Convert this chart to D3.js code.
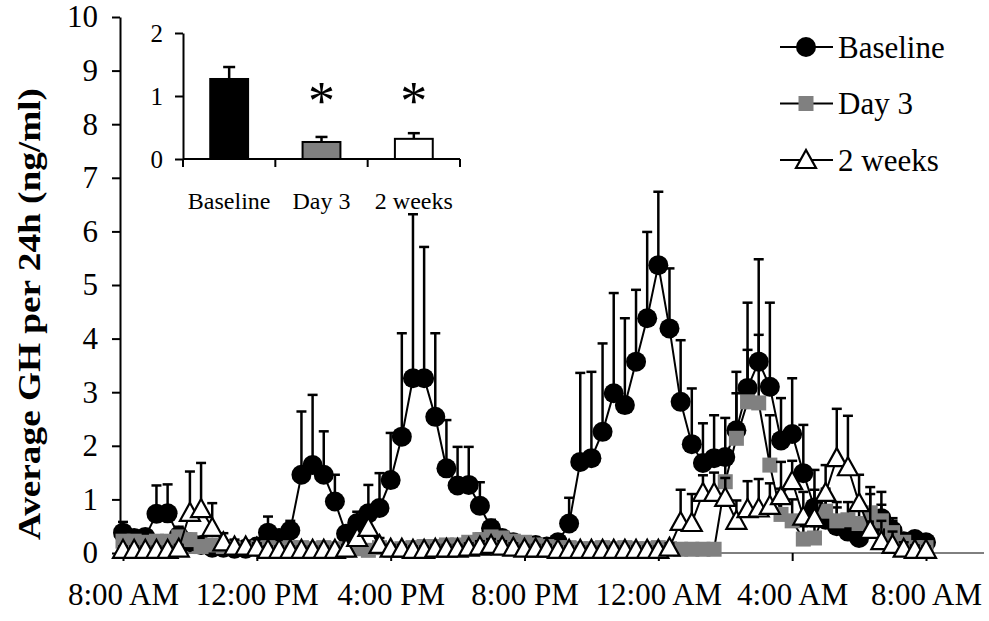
<!DOCTYPE html>
<html>
<head>
<meta charset="utf-8">
<script src="https://cdn.jsdelivr.net/npm/d3@7"></script>
<style>
  body { margin: 0; background: #fff; }
</style>
</head>
<body>
<svg width="989" height="621"></svg>
<script>

// tick labels for the time axis (one every 4 hours = every 12 samples)
var timeTicks = [0, 12, 24, 36, 48, 60, 72];
var timeLabels = ["8:00 AM", "12:00 PM", "4:00 PM", "8:00 PM", "12:00 AM", "4:00 AM", "8:00 AM"];

// 20 minute samples, 8:00 AM to 8:00 AM
var baseline = [0.38, 0.28, 0.30, 0.73, 0.74, 0.32, 0.20, 0.15, 0.10, 0.10, 0.08, 0.08, 0.12,
  0.38, 0.28, 0.42, 1.46, 1.64, 1.46, 0.96, 0.36, 0.56, 0.74, 0.84, 1.36,
  2.17, 3.26, 3.26, 2.54, 1.58, 1.26, 1.27, 0.88, 0.46, 0.28, 0.20, 0.15,
  0.15, 0.12, 0.20, 0.55, 1.70, 1.77, 2.26, 2.98, 2.76, 3.57, 4.38, 5.37,
  4.19, 2.82, 2.03, 1.68, 1.77, 1.79, 2.29, 3.08, 3.57, 3.10, 2.10, 2.22,
  1.49, 0.85, 0.62, 0.50, 0.40, 0.28, 0.45, 0.65, 0.42, 0.22, 0.26, 0.20];
var baselineErr = [0.58, 0.40, 0.42, 1.26, 1.28, 0.49, 0.32, 0.25, 0.18, 0.18, 0.15, 0.15, 0.20,
  0.68, 0.42, 0.60, 2.64, 2.95, 2.27, 1.46, 0.48, 0.77, 1.27, 1.49, 2.24,
  4.10, 6.32, 5.71, 4.10, 2.48, 1.98, 1.98, 1.32, 0.62, 0.40, 0.30, 0.24,
  0.22, 0.20, 0.32, 1.03, 3.36, 3.38, 3.91, 4.85, 4.38, 4.91, 5.99, 6.74,
  5.31, 3.97, 3.07, 2.42, 2.57, 2.52, 3.38, 4.67, 5.48, 4.67, 2.89, 3.26,
  2.39, 1.55, 1.05, 0.85, 0.70, 0.50, 0.70, 1.14, 0.65, 0.35, 0.35, 0.28];

var day3 = [0.22, 0.22, 0.20, 0.22, 0.22, 0.30, 0.25, 0.12, 0.15, 0.12, 0.10, 0.10, 0.08,
  0.10, 0.08, 0.10, 0.10, 0.08, 0.10, 0.08, 0.05, 0.08, 0.05, 0.10, 0.05,
  0.08, 0.10, 0.12, 0.12, 0.15, 0.15, 0.20, 0.25, 0.30, 0.28, 0.22, 0.20,
  0.15, 0.12, 0.10, 0.10, 0.08, 0.08, 0.10, 0.08, 0.10, 0.08, 0.08, 0.10,
  0.08, 0.07, 0.07, 0.07, 0.07, 1.33, 2.14, 2.82, 2.80, 1.64, 0.72, 0.60,
  0.26, 0.28, 0.78, 0.60, 0.62, 0.55, 0.75, 0.60, 0.38, 0.20, 0.10, 0.10];
var day3Err = [0.30, 0.30, 0.28, 0.30, 0.30, 0.40, 0.35, 0.20, 0.22, 0.20, 0.16, 0.16, 0.14,
  0.16, 0.14, 0.16, 0.16, 0.14, 0.16, 0.14, 0.10, 0.14, 0.10, 0.16, 0.10,
  0.14, 0.16, 0.20, 0.20, 0.24, 0.24, 0.30, 0.36, 0.42, 0.40, 0.32, 0.30,
  0.24, 0.20, 0.16, 0.16, 0.14, 0.14, 0.16, 0.14, 0.16, 0.14, 0.14, 0.16,
  0.14, 0.12, 0.12, 0.12, 0.12, 1.90, 2.98, 3.79, 4.07, 2.57, 1.20, 1.00,
  0.50, 0.50, 1.20, 0.95, 0.95, 0.85, 1.10, 0.90, 0.60, 0.35, 0.20, 0.18];

var weeks2 = [0.06, 0.06, 0.06, 0.06, 0.06, 0.08, 0.75, 0.82, 0.47, 0.20, 0.12, 0.12, 0.10,
  0.06, 0.06, 0.06, 0.06, 0.06, 0.06, 0.06, 0.08, 0.28, 0.47, 0.15, 0.08,
  0.08, 0.06, 0.06, 0.08, 0.08, 0.08, 0.10, 0.12, 0.15, 0.12, 0.10, 0.08,
  0.08, 0.08, 0.06, 0.06, 0.06, 0.06, 0.06, 0.06, 0.06, 0.06, 0.06, 0.06,
  0.10, 0.58, 0.56, 1.12, 1.12, 1.03, 0.60, 0.82, 0.83, 0.88, 1.06, 1.34,
  0.68, 0.65, 1.12, 1.77, 1.60, 0.93, 0.43, 0.22, 0.15, 0.08, 0.06, 0.06];
var weeks2Err = [0.12, 0.12, 0.12, 0.12, 0.12, 0.15, 1.52, 1.68, 0.93, 0.37, 0.25, 0.22, 0.18,
  0.12, 0.12, 0.12, 0.12, 0.12, 0.12, 0.12, 0.15, 0.45, 0.70, 0.28, 0.15,
  0.15, 0.12, 0.12, 0.15, 0.15, 0.15, 0.18, 0.22, 0.26, 0.22, 0.18, 0.15,
  0.15, 0.15, 0.12, 0.12, 0.12, 0.12, 0.12, 0.12, 0.12, 0.12, 0.12, 0.12,
  0.18, 1.18, 1.10, 1.45, 1.50, 1.40, 0.98, 1.34, 1.38, 1.30, 1.70, 1.72,
  1.14, 1.18, 1.64, 2.69, 2.56, 1.46, 1.23, 0.60, 0.40, 0.20, 0.14, 0.12];

// inset: 24h averages
var insetGroups = ["Baseline", "Day 3", "2 weeks"];
var insetMeans = [1.27, 0.27, 0.32];
var insetErr = [1.46, 0.35, 0.41];
var insetStars = ["", "*", "*"];

var seriesNames = ["Baseline", "Day 3", "2 weeks"];

var serif = "'Liberation Serif', 'Times New Roman', serif";

var svg = d3.select("svg");

// main plot frame
var axisLeft = 120,
    axisRight = 984,
    axisBottom = 553,
    axisTop = 17;

var x = d3.scaleLinear()
    .domain([0, 72])
    .range([123, 926]);

var y = d3.scaleLinear()
    .domain([0, 10])
    .range([axisBottom, axisTop]);

// y axis
var yAxis = svg.append("g")
    .attr("transform", "translate(" + axisLeft + ",0)")
    .call(d3.axisLeft(y).ticks(10).tickSize(8).tickSizeOuter(0).tickPadding(14));
yAxis.selectAll("text").style("font-size", "31px");

// x axis
var xAxis = svg.append("g")
    .attr("transform", "translate(0," + axisBottom + ")")
    .call(d3.axisBottom(x).tickValues(timeTicks).tickSize(8).tickPadding(22)
      .tickFormat(function(d, i) { return timeLabels[i]; }));
xAxis.select(".domain").remove();
xAxis.selectAll("text").style("font-size", "31px");
xAxis.append("line")
    .attr("x1", axisLeft).attr("x2", axisRight)
    .attr("stroke", "#000");

svg.selectAll(".domain, .tick line").attr("stroke-width", 2);

// y axis title
svg.append("text")
    .attr("transform", "translate(40,314) rotate(-90)")
    .attr("text-anchor", "middle")
    .attr("textLength", 452)
    .attr("lengthAdjust", "spacingAndGlyphs")
    .style("font-size", "32px")
    .style("font-weight", "bold")
    .text("Average GH per 24h (ng/ml)");

// series
var data = [baseline, day3, weeks2];
var errs = [baselineErr, day3Err, weeks2Err];

function trianglePath(cx, cy) {
  return "M" + (cx - 10) + "," + (cy + 8) + "L" + (cx + 10) + "," + (cy + 8) + "L" + cx + "," + (cy - 10) + "Z";
}

function drawMarker(sel, k, cx, cy) {
  if (k == 0) {
    sel.append("circle").attr("cx", cx).attr("cy", cy).attr("r", 10).attr("fill", "#000");
  }
  if (k == 1) {
    sel.append("rect").attr("x", cx - 7.5).attr("y", cy - 7.5)
      .attr("width", 15).attr("height", 15).attr("fill", "#808080");
  }
  if (k == 2) {
    sel.append("path").attr("d", trianglePath(cx, cy))
      .attr("fill", "#fff").attr("stroke", "#000").attr("stroke-width", 2.2);
  }
}

var line = d3.line()
    .x(function(d, i) { return x(i); })
    .y(function(d) { return y(d); });

data.forEach(function(values, k) {
  var g = svg.append("g").attr("class", "series-" + k);

  // upper error bars
  var eb = g.selectAll(".err")
    .data(errs[k])
    .enter()
      .append("g")
      .attr("class", "err");
  eb.append("line")
    .attr("x1", function(d, i) { return x(i); })
    .attr("x2", function(d, i) { return x(i); })
    .attr("y1", function(d, i) { return y(values[i]); })
    .attr("y2", function(d) { return y(d); })
    .attr("stroke", "#000").attr("stroke-width", 2.5);
  eb.append("line")
    .attr("x1", function(d, i) { return x(i) - 5; })
    .attr("x2", function(d, i) { return x(i) + 5; })
    .attr("y1", function(d) { return y(d); })
    .attr("y2", function(d) { return y(d); })
    .attr("stroke", "#000").attr("stroke-width", 2.5);

  g.append("path")
    .datum(values)
    .attr("d", line)
    .attr("fill", "none")
    .attr("stroke", "#000")
    .attr("stroke-width", 2);

  values.forEach(function(v, i) {
    drawMarker(g, k, x(i), y(v));
  });
});

// legend
var legend = svg.append("g");
seriesNames.forEach(function(name, k) {
  var ly = 47 + k * 56.5;
  legend.append("line")
    .attr("x1", 780).attr("x2", 833)
    .attr("y1", ly).attr("y2", ly)
    .attr("stroke", "#000").attr("stroke-width", 2);
  drawMarker(legend, k, 806, ly);
  legend.append("text")
    .attr("x", 838).attr("y", ly)
    .attr("dy", "0.34em")
    .style("font-size", "31px")
    .text(name);
});

// inset bar chart
var ix = d3.scaleBand()
    .domain(insetGroups)
    .range([183, 460])
    .paddingInner(0.59)
    .paddingOuter(0.295);

var iy = d3.scaleLinear()
    .domain([0, 2])
    .range([159, 33]);

var inset = svg.append("g");

var iyAxis = inset.append("g")
    .attr("transform", "translate(183,0)")
    .call(d3.axisLeft(iy).ticks(2).tickSize(8).tickSizeOuter(0).tickPadding(12));
iyAxis.selectAll("text").style("font-size", "25px");

var ixAxis = inset.append("g")
    .attr("transform", "translate(0,159)")
    .call(d3.axisBottom(ix).tickSize(0).tickPadding(33));
ixAxis.select(".domain").remove();
ixAxis.selectAll("text").style("font-size", "24px");
ixAxis.append("line").attr("x1", 183).attr("x2", 460).attr("stroke", "#000");

// category separators on the inset axis
ixAxis.selectAll(".sep")
  .data([0, 1, 2, 3])
  .enter()
    .append("line")
    .attr("class", "sep")
    .attr("x1", function(d) { return 183 + d * ix.step(); })
    .attr("x2", function(d) { return 183 + d * ix.step(); })
    .attr("y1", 0).attr("y2", 8)
    .attr("stroke", "#000");

inset.selectAll(".domain, line").attr("stroke-width", 2);

var insetFill = ["#000", "#808080", "#fff"];

inset.selectAll(".ierr")
  .data(insetGroups)
  .enter()
    .append("g")
    .each(function(g, i) {
      var cx = ix(g) + ix.bandwidth() / 2;
      d3.select(this).append("line")
        .attr("x1", cx).attr("x2", cx)
        .attr("y1", iy(insetMeans[i])).attr("y2", iy(insetErr[i]))
        .attr("stroke", "#000").attr("stroke-width", 2.5);
      d3.select(this).append("line")
        .attr("x1", cx - 6).attr("x2", cx + 6)
        .attr("y1", iy(insetErr[i])).attr("y2", iy(insetErr[i]))
        .attr("stroke", "#000").attr("stroke-width", 2.5);
    });

inset.selectAll(".bar")
  .data(insetGroups)
  .enter()
    .append("rect")
    .attr("x", function(d) { return ix(d); })
    .attr("y", function(d, i) { return iy(insetMeans[i]); })
    .attr("width", ix.bandwidth())
    .attr("height", function(d, i) { return iy(0) - iy(insetMeans[i]); })
    .attr("fill", function(d, i) { return insetFill[i]; })
    .attr("stroke", "#000")
    .attr("stroke-width", 2);

inset.selectAll(".star")
  .data(insetGroups)
  .enter()
    .append("text")
    .attr("x", function(d) { return ix(d) + ix.bandwidth() / 2; })
    .attr("y", 119)
    .attr("text-anchor", "middle")
    .style("font-size", "54px")
    .text(function(d, i) { return insetStars[i]; });

// serif everywhere, axis groups default to sans-serif
svg.selectAll("g").attr("font-family", null);
svg.selectAll("text").style("font-family", serif).attr("fill", "#000");

</script>
</body>
</html>
